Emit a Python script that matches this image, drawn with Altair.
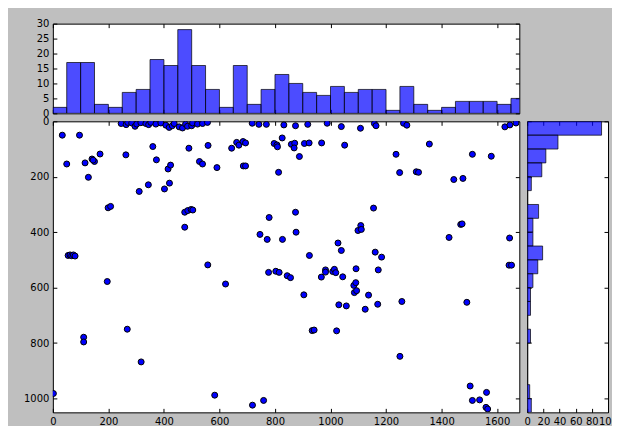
import altair as alt
import pandas as pd

# ---------------- data ----------------
X_DOMAIN = [0, 1680]
Y_DOMAIN = [0, 1050]
BIN_WIDTH = 50

xbin_start = [0, 50, 100, 150, 200, 250, 300, 350, 400, 450, 500, 550, 600, 650,
              700, 750, 800, 850, 900, 950, 1000, 1050, 1100, 1150, 1200, 1250,
              1300, 1350, 1400, 1450, 1500, 1550, 1600, 1650]
xbin_count = [2, 17, 17, 3, 2, 7, 8, 18, 16, 28, 16, 8, 2, 16, 3, 8, 13, 10, 7, 6,
              9, 7, 8, 8, 1, 9, 3, 1, 2, 4, 4, 4, 3, 5]

ybin_start = [0, 50, 100, 150, 200, 250, 300, 350, 400, 450, 500, 550, 600, 650,
              700, 750, 800, 850, 900, 950, 1000]
ybin_count = [92, 38, 23, 18, 5, 0, 14, 7, 7, 19, 13, 7, 4, 4, 0, 4, 0, 0, 0, 3, 5]

pts_x = [246, 264, 270, 284, 296, 302, 317, 335, 345, 353, 371, 389, 407, 419, 430,
         437, 455, 467, 478, 485, 500, 503, 521, 539, 557,
         718, 742, 769, 832, 874, 918, 988, 1039, 1108, 1158, 1164, 1263, 1275,
         1628, 1646, 1668,
         34, 96, 50, 116, 128, 141, 150, 145, 170, 263, 311, 344, 360, 373, 402,
         415, 424, 420, 199, 208, 475, 486, 498, 504, 475, 490, 528, 539, 559,
         591, 558, 644, 662, 670, 685, 694, 686, 694, 797, 807, 809, 826, 813,
         859, 871, 869, 888, 906, 923, 968, 1051, 779, 746, 772, 827, 874, 876,
         924, 1027,
         55, 62, 68, 74, 80,
         777, 803, 815, 844, 856, 904, 934, 941, 967, 982, 982, 1008, 1014, 1019,
         1030, 1022, 1044, 1092, 1172, 1084, 1091, 1086, 1094, 1137, 1057, 1125,
         1170, 1257, 1491, 1250, 1503, 1562, 1511, 1537, 1560, 1566, 1643, 1652,
         196, 622, 268, 111, 111, 318, 2, 583, 719, 759,
         1356, 1236, 1511, 1579, 1249, 1309, 1317, 1444, 1477, 1155, 1109, 1099,
         1111, 1469, 1474, 1427, 1645, 1039, 1161, 1184]
pts_y = [8, 12, 4, 6, 18, 10, 5, 8, 12, 4, 10, 6, 14, 22, 16,
         8, 20, 24, 10, 18, 16, 6, 10, 8, 4,
         7, 11, 11, 13, 16, 11, 7, 19, 25, 8, 16, 7, 14,
         20, 13, 6,
         50, 50, 154, 150, 202, 136, 145, 140, 118, 121, 253, 229, 91, 139, 244,
         172, 158, 223, 312, 307, 328, 322, 318, 320, 382, 97, 145, 154, 87,
         167, 518, 97, 76, 86, 73, 78, 161, 161, 80, 85, 92, 60, 184,
         83, 79, 96, 127, 80, 78, 78, 86, 347, 408, 426, 426, 328, 400,
         484, 439,
         484, 482, 485, 482, 486,
         545, 541, 545, 557, 564, 626, 755, 753, 562, 536, 544, 542, 534, 546,
         662, 756, 561, 532, 536, 592, 582, 618, 611, 627, 666, 678,
         660, 650, 653, 848, 955, 978, 1007, 1005, 1032, 1038, 519, 519,
         578, 587, 750, 779, 796, 868, 982, 988, 1024, 1007,
         82, 119, 119, 126, 185, 182, 184, 210, 206, 313, 376, 394,
         390, 372, 370, 419, 421, 466, 472, 490]

x_ticks = [0, 200, 400, 600, 800, 1000, 1200, 1400, 1600]
y_ticks = [0, 200, 400, 600, 800, 1000]
count_ticks_top = [0, 5, 10, 15, 20, 25, 30]
count_ticks_right = [0, 20, 40, 60, 80, 100]

xhist = pd.DataFrame({"start": xbin_start, "count": xbin_count})
xhist["end"] = xhist["start"] + BIN_WIDTH
yhist = pd.DataFrame({"start": ybin_start, "count": ybin_count})
yhist["end"] = yhist["start"] + BIN_WIDTH
pts = pd.DataFrame({"x": pts_x, "y": pts_y})

FONT = "DejaVu Sans"


def label_axis(orient, values):
    return alt.Axis(orient=orient, values=values, labels=True, ticks=False,
                    domain=False, grid=False, title=None, labelFont=FONT,
                    labelFontSize=10, labelColor="black", labelPadding=4,
                    labelFlush=False, labelOverlap=False, format="d")


def tick_axis(orient, values):
    return alt.Axis(orient=orient, values=values, labels=False, ticks=True,
                    tickSize=4, tickColor="black", tickWidth=1, domain=False,
                    grid=False, title=None, offset=-4)


def framed(main, data, xf, yf, xscale, yscale, xvals, yvals):
    inv1 = alt.Chart(data).mark_point(opacity=0).encode(
        x=alt.X(xf, scale=xscale, axis=tick_axis("bottom", xvals)),
        y=alt.Y(yf, scale=yscale, axis=tick_axis("left", yvals)),
    )
    inv2 = alt.Chart(data).mark_point(opacity=0).encode(
        x=alt.X(xf, scale=xscale, axis=tick_axis("top", xvals)),
        y=alt.Y(yf, scale=yscale, axis=tick_axis("right", yvals)),
    )
    return alt.layer(main, inv1, inv2).resolve_axis(x="independent", y="independent")


xs = alt.Scale(domain=X_DOMAIN, nice=False, zero=False, padding=0)
ys = alt.Scale(domain=Y_DOMAIN, nice=False, zero=False, reverse=True, padding=0)
cs_top = alt.Scale(domain=[0, 30], nice=False, padding=0)
cs_right = alt.Scale(domain=[0, 100], nice=False, padding=0)

BAR_STYLE = dict(clip=True, fill="#0000ff", fillOpacity=0.7, stroke="black",
                 strokeOpacity=0.7, strokeWidth=1)

# top histogram
top_main = alt.Chart(xhist).mark_bar(**BAR_STYLE).encode(
    x=alt.X("start:Q", scale=xs, axis=None),
    x2="end:Q",
    y=alt.Y("count:Q", scale=cs_top, axis=label_axis("left", count_ticks_top)),
    y2=alt.datum(0),
)
top = framed(top_main, xhist, "start:Q", "count:Q", xs, cs_top,
             x_ticks, count_ticks_top).properties(width=468, height=90)

# scatter
sc_main = alt.Chart(pts).mark_circle(
    clip=True, size=36, fill="#0000ff", fillOpacity=1, stroke="black",
    strokeWidth=1, opacity=1
).encode(
    x=alt.X("x:Q", scale=xs, axis=label_axis("bottom", x_ticks)),
    y=alt.Y("y:Q", scale=ys, axis=label_axis("left", y_ticks)),
)
scatter = framed(sc_main, pts, "x:Q", "y:Q", xs, ys,
                 x_ticks, y_ticks).properties(width=468, height=292)

# right histogram
right_main = alt.Chart(yhist).mark_bar(**BAR_STYLE).encode(
    y=alt.Y("start:Q", scale=ys, axis=None),
    y2="end:Q",
    x=alt.X("count:Q", scale=cs_right, axis=label_axis("bottom", count_ticks_right)),
    x2=alt.datum(0),
)
right = framed(right_main, yhist, "count:Q", "start:Q", cs_right, ys,
               count_ticks_right, y_ticks).properties(width=81, height=292)

placeholder = alt.Chart(pd.DataFrame({"a": [0]})).mark_point(opacity=0).encode(
    x=alt.X("a:Q", axis=None), y=alt.Y("a:Q", axis=None)
).properties(width=81, height=90,
             view=alt.ViewBackground(fill="transparent", stroke="transparent"))

chart = alt.concat(top, placeholder, scatter, right, columns=2, spacing=8,
                   bounds="flush").properties(
    background="#bfbfbf",
    padding={"left": 15, "top": 9, "right": -7, "bottom": -2},
).configure_view(fill="white", stroke="black", strokeWidth=1)

chart.save("out.html", embed_options={"renderer": "svg", "actions": False})
